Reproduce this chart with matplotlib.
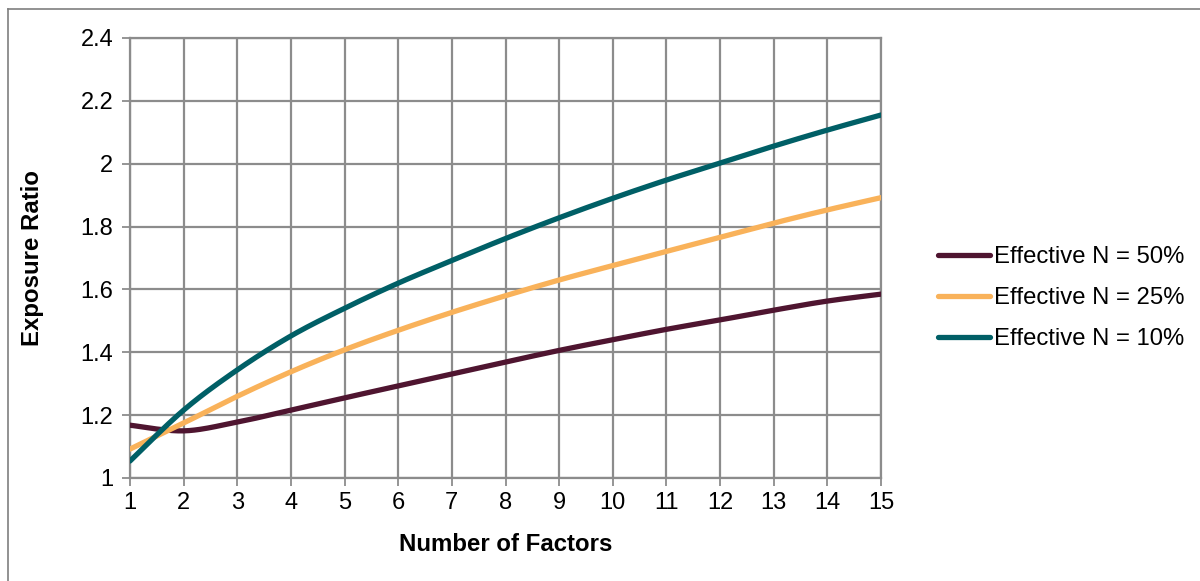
import numpy as np
import matplotlib.pyplot as plt
from matplotlib.lines import Line2D

# data
factors = list(range(1, 16))
eff_50 = [1.168, 1.150, 1.178, 1.216, 1.255, 1.293, 1.331, 1.369, 1.406, 1.440,
          1.473, 1.503, 1.534, 1.563, 1.585]
eff_25 = [1.092, 1.175, 1.260, 1.338, 1.408, 1.470, 1.527, 1.580, 1.630, 1.676,
          1.721, 1.766, 1.811, 1.853, 1.892]
eff_10 = [1.054, 1.216, 1.344, 1.452, 1.540, 1.620, 1.692, 1.762, 1.828, 1.890,
          1.948, 2.002, 2.056, 2.107, 2.155]
series_names = ["Effective N = 50%", "Effective N = 25%", "Effective N = 10%"]
colors = ["#4F1530", "#F9B25A", "#005F66"]

plt.rcParams['font.family'] = ['Liberation Sans', 'DejaVu Sans']


def smooth(xs, ys, n=20):
    # catmull-rom style smoothing like excel's "smoothed line"
    x = np.asarray(xs, float)
    y = np.asarray(ys, float)
    px = np.concatenate([[x[0]], x, [x[-1]]])
    py = np.concatenate([[y[0]], y, [y[-1]]])
    outx, outy = [], []
    t = np.linspace(0, 1, n, endpoint=False)
    for i in range(1, len(px) - 2):
        for p, out in ((px, outx), (py, outy)):
            p0, p1, p2, p3 = p[i - 1], p[i], p[i + 1], p[i + 2]
            c1 = p1 + (p2 - p0) / 6
            c2 = p2 - (p3 - p1) / 6
            out.extend((1 - t) ** 3 * p1 + 3 * (1 - t) ** 2 * t * c1
                       + 3 * (1 - t) * t ** 2 * c2 + t ** 3 * p2)
    outx.append(x[-1])
    outy.append(y[-1])
    return outx, outy


fig = plt.figure(figsize=(12, 5.81), dpi=100)
ax = fig.add_axes([130 / 1200, 1 - 478 / 581, 751 / 1200, 440 / 581])

grid_c = "#8C8C8C"
for vals, c in zip([eff_50, eff_25, eff_10], colors):
    sx, sy = smooth(factors, vals)
    ax.plot(sx, sy, color=c, lw=3.8, solid_capstyle="round", zorder=3)

ax.set_xlim(1, 15)
ax.set_ylim(1, 2.4)
ax.set_xticks(factors)
yt = [1, 1.2, 1.4, 1.6, 1.8, 2, 2.2, 2.4]
ax.set_yticks(yt)
ax.set_yticklabels(["1", "1.2", "1.4", "1.6", "1.8", "2", "2.2", "2.4"])
ax.grid(True, color=grid_c, lw=1.6)
ax.set_axisbelow(True)
for s in ax.spines.values():
    s.set_color(grid_c)
    s.set_linewidth(1.6)
ax.tick_params(direction="out", length=6, width=1.3, color=grid_c,
               labelsize=17, pad=6)
ax.tick_params(axis="x", pad=4)

ax.set_xlabel("Number of Factors", fontsize=17.3, fontweight="bold", labelpad=14)
ax.set_ylabel("Exposure Ratio", fontsize=17.3, fontweight="bold", labelpad=26)

handles = [Line2D([0], [0], color=c, lw=3.8, solid_capstyle="round") for c in colors]
fig.legend(handles, series_names, loc="center left",
           bbox_to_anchor=(916 / 1200, 1 - 298 / 581), frameon=False,
           fontsize=17.2, handlelength=2.2, handletextpad=0.15, labelspacing=0.8)

# outer chart border (left and top visible)
fig.add_artist(Line2D([8 / 1200, 8 / 1200], [0, 1 - 9 / 581], color="#7F7F7F", lw=1.2))
fig.add_artist(Line2D([8 / 1200, 1], [1 - 9 / 581, 1 - 9 / 581], color="#7F7F7F", lw=1.2))

fig.savefig("out.png", dpi=100)
